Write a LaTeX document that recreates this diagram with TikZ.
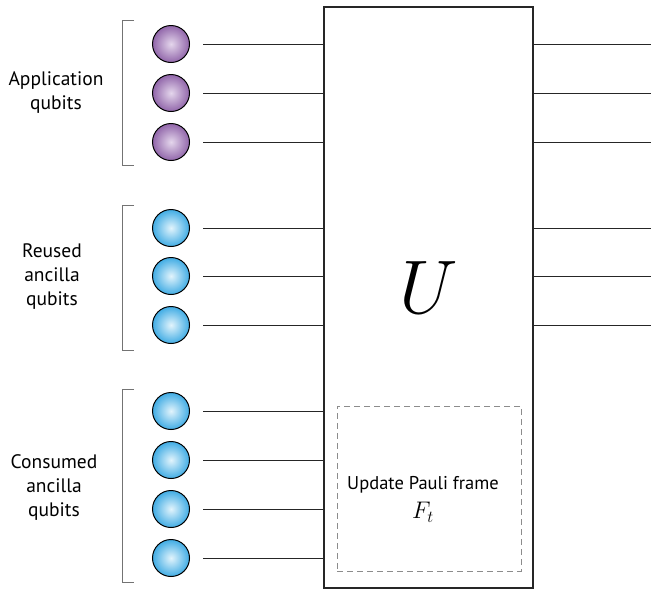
\documentclass[tikz,border=0pt]{standalone}
\usepackage{fix-cm}
\usepackage{fontspec}
\setmainfont{PT Sans}
\begin{document}
\begin{tikzpicture}[x=1pt,y=-1pt,
  wire/.style={draw=black!85,line width=1pt},
  qpurple/.style={circle,minimum size=37pt,inner sep=0pt,draw=black,line width=1pt,inner color={rgb,255:red,228;green,214;blue,236},outer color={rgb,255:red,145;green,102;blue,170}},
  qblue/.style={circle,minimum size=37pt,inner sep=0pt,draw=black,line width=1pt,inner color={rgb,255:red,226;green,244;blue,252},outer color={rgb,255:red,65;green,172;blue,228}},
  brk/.style={draw=black!55,line width=1pt},
  lbl/.style={align=center,font=\fontsize{19.5}{24}\selectfont}]
\useasboundingbox (0,0) rectangle (651,590);
% big box
\node[draw=black!85,line width=1.2pt,minimum width=209pt,minimum height=581pt,inner sep=0pt] (U) at (428.5,297.5) {};
\node (Ul) at (429,288) {\fontsize{76}{76}\selectfont$U$};
% dashed box
\node[draw=black!45,line width=1pt,dash pattern=on 6pt off 4pt,minimum width=184pt,minimum height=165pt,inner sep=0pt] (pf) at (429,488.5) {};
\node[font=\fontsize{18.5}{20}\selectfont] (pft) at (423,485) {Update Pauli frame};
\node (Ft) at (423,512) {\fontsize{24}{24}\selectfont$F_t$};
% qubits
\foreach \n/\y/\s in {a1/44/qpurple,a2/93/qpurple,a3/142/qpurple,r1/228/qblue,r2/276/qblue,r3/325/qblue,c1/411/qblue,c2/460/qblue,c3/509/qblue,c4/558/qblue}{
  \node[\s] (\n) at (171,\y) {};
  \coordinate (\n l) at (203,\y);
  \coordinate (\n b) at (324,\y);
  \draw[wire] (\n l) -- (\n b);
}
\foreach \n/\y in {a1/44,a2/93,a3/142,r1/228,r2/276,r3/325}{
  \coordinate (\n s) at (533,\y);
  \coordinate (\n e) at (651,\y);
  \draw[wire] (\n s) -- (\n e);
}
% brackets
\draw[brk] (134,20) -- (122,20) -- (122,165) -- (134,165);
\draw[brk] (134,205) -- (122,205) -- (122,350) -- (134,350);
\draw[brk] (134,389) -- (122,389) -- (122,582) -- (134,582);
% labels
\node[lbl] (la) at (56,93) {Application\\qubits};
\node[lbl] (lr) at (52,277) {Reused\\ancilla\\qubits};
\node[lbl] (lc) at (54,487) {Consumed\\ancilla\\qubits};
\end{tikzpicture}
\end{document}
